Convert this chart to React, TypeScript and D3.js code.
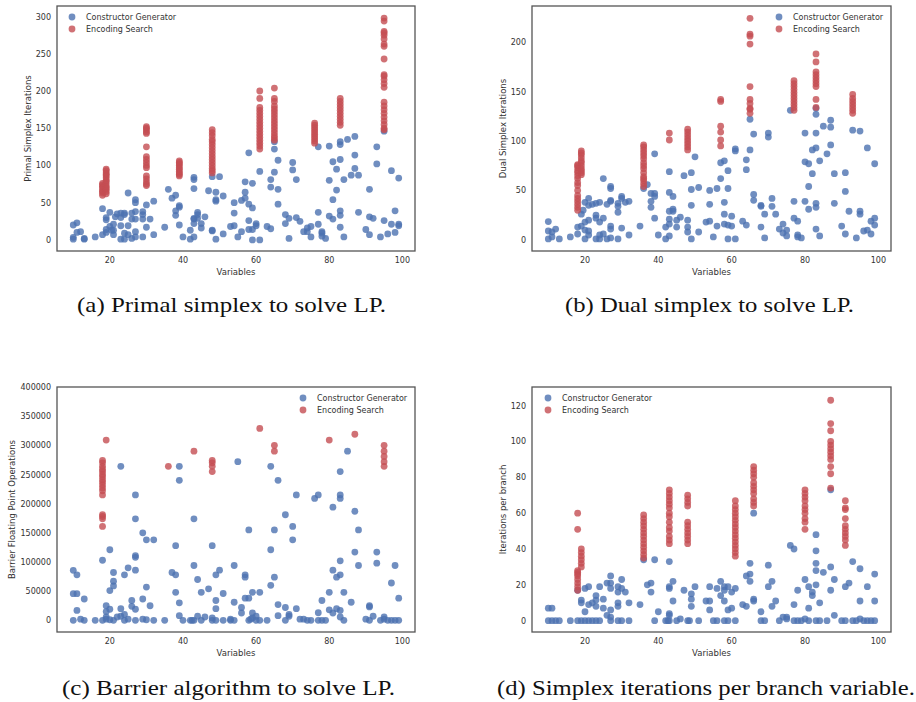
import React from "react";
import * as d3 from "d3";

// ---------- DATA ----------
const xTicks = [20, 40, 60, 80, 100];
const primalTicks = [0, 50, 100, 150, 200, 250, 300];
const dualTicks = [0, 50, 100, 150, 200];
const barrierTicks = [0, 50000, 100000, 150000, 200000, 250000, 300000, 350000, 400000];
const branchTicks = [0, 20, 40, 60, 80, 100, 120];
const seriesNames = ["Constructor Generator", "Encoding Search"];

// (a) primal simplex: Constructor Generator [variables, iterations]
const primalCG: [number, number][] = [
  [10, 20], [11, 23], [10, 3.5], [10, 1], [11, 10], [12, 11], [13, 1], [13, 2], [16, 4], [18, 42], [18, 7],
  [19, 14], [19, 27], [19, 30], [19, 10], [20, 37], [20, 18], [20.5, 13], [21, 7], [21, 13], [21, 21],
  [21.5, 31], [22, 35], [23, 36], [23, 30], [23, 19], [23, 1], [24, 34], [24, 36], [24, 9], [24, 1],
  [25, 63], [25, 19], [25, 7], [26, 36], [26, 28], [26, 2], [27, 54], [27, 50], [27, 38], [27, 28],
  [27, 11], [27, 4], [29, 38], [29, 34], [29, 28], [29, 4], [30, 47], [30, 17], [31, 28], [32, 52],
  [32, 7], [35, 17], [36, 68], [37, 56], [38, 60], [38, 39], [38, 33], [39, 46], [39, 44], [39, 20],
  [40, 4], [42, 13], [42, 1], [43, 84], [43, 81], [43, 69], [43, 29], [43, 28], [43, 22], [43, 4],
  [44, 37], [44, 34], [44, 29], [45, 22], [45, 16], [46, 31], [47, 66], [48, 85], [48, 13], [48, 12],
  [49, 64], [49, 54], [49, 52], [49, 1], [50, 85], [51, 59], [51, 8], [53, 18], [54, 50], [54, 36],
  [54, 19], [55, 4], [56, 11], [56, 53], [57, 78], [57, 64], [57, 56], [58, 117], [58, 48], [58, 26],
  [58, 14], [59, 76], [59, 43], [59, 0], [59, 14], [60, 22], [60, 19], [61, 92], [61, 0], [63, 18],
  [64, 81], [64, 71], [64, 15], [65, 132], [65, 122], [65, 91], [66, 107], [66, 68], [66, 48], [68, 34],
  [68, 22], [69, 29], [69, 2], [70, 104], [70, 94], [71, 81], [71, 30], [72, 25], [73, 11], [74, 16],
  [74, 11], [75, 18], [75, 4], [77, 125], [77, 37], [77, 21], [78, 11], [78, 9], [78, 5], [79, 2],
  [80, 126], [80, 80], [80, 32], [81, 105], [81, 54], [81, 28], [82, 95], [82, 67], [83, 132], [83, 128],
  [83, 108], [83, 39], [83, 33], [83, 17], [84, 81], [84, 4], [85, 135], [86, 87], [87, 139], [87, 114],
  [87, 96], [88, 87], [88, 37], [90, 14], [91, 68], [91, 31], [91, 7], [92, 29], [93, 125], [93, 102],
  [94, 4], [95, 146], [95, 26], [96, 8], [97, 93], [97, 21], [98, 39], [98, 10], [99, 83], [99, 21], [99, 19],
];
// (a) primal simplex: Encoding Search, grouped by variables
const primalES: [number, number[]][] = [
  [18, [60, 63, 65, 67, 70, 72, 74, 76]],
  [19, [62, 65, 68, 70, 72, 75, 78, 80, 83, 86, 88, 90, 93, 95]],
  [30, [143, 145, 148, 150, 152, 125, 112, 108, 104, 100, 97, 86, 82, 78, 75, 73]],
  [39, [86, 88, 90, 92, 95, 97, 100, 102, 104, 106]],
  [48, [90, 93, 96, 100, 104, 108, 112, 116, 120, 124, 128, 132, 135, 140, 144, 148]],
  [61, [200, 190, 178, 174, 170, 166, 162, 158, 154, 150, 146, 142, 138, 134, 130, 126, 122]],
  [65, [204, 190, 186, 180, 176, 172, 168, 164, 160, 156, 152, 148, 144, 140, 137, 134]],
  [76, [130, 133, 136, 139, 142, 145, 148, 151, 154, 157]],
  [83, [154, 158, 162, 166, 170, 174, 178, 182, 186, 190]],
  [95, [298, 294, 280, 278, 275, 270, 263, 260, 243, 222, 220, 215, 210, 205, 185, 180, 175, 170, 165, 160, 155, 150, 148]],
];

// (b) dual simplex
const dualCG: [number, number][] = [
  [10, 18.5], [10, 9], [10, 1], [11, 8], [11, 3], [12, 11], [13, 1], [16, 3], [18, 6], [18, 13], [19, 14],
  [19, 26], [19.5, 30], [20, 38], [20, 18], [20, 10], [20, 1], [21, 20], [21, 42], [21, 35], [21, 5],
  [21, 9], [22, 36], [23, 37], [23, 25], [23, 22], [23, 1], [24, 38], [24, 18], [24, 5], [24, 1],
  [25, 62], [25, 22], [25, 6], [26, 36], [26, 1], [27, 54], [27, 52], [27, 40], [27, 39], [27, 14],
  [27, 11], [27, 2], [29, 37], [29, 34], [29, 28], [29, 1], [30, 44], [30, 42], [30, 12], [31, 38],
  [32, 39], [32, 5], [35, 14], [36, 52], [37, 56], [38, 47], [38, 39], [38, 33], [39, 87], [39, 47],
  [39, 44], [39, 22], [40, 5], [42, 13], [42, 1], [43, 69], [43, 48], [43, 29], [43, 21], [43, 16],
  [43, 4], [44, 44], [44, 31], [44, 29], [45, 13], [45, 20], [46, 23], [47, 65], [48, 20], [48, 13],
  [48, 8], [49, 68], [49, 51], [49, 35], [49, 1], [50, 84], [51, 53], [51, 8], [53, 18], [54, 50],
  [54, 36], [54, 19], [55, 3], [56, 52], [56, 14], [57, 62], [57, 78], [58, 80], [58, 38], [58, 26],
  [58, 16], [59, 70], [59, 52], [59, 15], [59, 1], [60, 24], [60, 14], [61, 92], [61, 90], [61, 1],
  [63, 19], [64, 81], [64, 71], [64, 15], [65, 122], [65, 91], [66, 107], [66, 46], [66, 40], [68, 35],
  [68, 34], [68, 13], [69, 26], [69, 2], [70, 108], [70, 104], [71, 42], [71, 34], [72, 26], [73, 11],
  [74, 16], [74, 7], [75, 10], [75, 4], [76, 131], [77, 39], [77, 22], [78, 19], [78, 5], [78, 3],
  [79, 2], [80, 108], [80, 79], [80, 39], [81, 77], [81, 54], [81, 31], [82, 91], [82, 67], [83, 133],
  [83, 127], [83, 108], [83, 93], [83, 37], [83, 33], [83, 11], [84, 80], [84, 4], [85, 115], [86, 87],
  [87, 121], [87, 114], [87, 96], [88, 67], [88, 37], [90, 14], [91, 68], [91, 49], [91, 6], [92, 29],
  [93, 111], [94, 2], [95, 110], [95, 29], [95, 26], [96, 9], [97, 93], [97, 10], [98, 6], [98, 19],
  [99, 77], [99, 22], [99, 15],
];
const dualES: [number, number[]][] = [
  [18, [30, 33, 36, 39, 42, 45, 50, 55, 58, 62, 65, 68, 70, 73, 75, 76]],
  [19, [66, 68, 70, 72, 75, 78, 80, 83, 86, 88, 90]],
  [36, [54, 57, 60, 62, 64, 68, 72, 75, 78, 82, 85, 88, 91, 94, 96]],
  [43, [108, 101]],
  [48, [91, 94, 97, 100, 103, 106, 109, 112]],
  [57, [142, 140, 115, 109, 101, 95]],
  [65, [224, 208, 206, 198, 155, 142, 138, 133, 132, 128]],
  [77, [131, 134, 137, 140, 143, 146, 149, 152, 155, 158, 161]],
  [83, [188, 180, 170, 167, 164, 161, 158, 155, 142, 134]],
  [93, [128, 131, 134, 137, 140, 143, 147]],
];

// (c) barrier floating point operations
const barrierCG: [number, number][] = [
  [10, 85700], [10, 45700], [10, 0], [11, 45700], [11, 78000], [11, 17000], [12, 2000], [13, 36600],
  [13, 0], [16, 0], [18, 103000], [18, 0], [19, 25000], [19, 15000], [19, 5700], [19, 2000], [20, 121000],
  [20, 51000], [20, 19000], [20, 1000], [21, 82000], [21, 67000], [21, 59000], [21, 0], [22, 5700],
  [23, 264000], [23, 20000], [23, 7000], [24, 78000], [24, 10000], [24, 0], [25, 90000], [25, 2000],
  [26, 34000], [26, 24000], [27, 215000], [27, 174000], [27, 111000], [27, 108000], [27, 86000],
  [27, 19000], [27, 0], [29, 150000], [29, 36600], [29, 2000], [30, 138000], [30, 57000], [30, 1000],
  [31, 25000], [32, 138000], [32, 0], [35, 0], [37, 82000], [38, 128000], [38, 78000], [38, 48000],
  [39, 264000], [39, 240000], [39, 30000], [39, 8000], [40, 0], [42, 0], [42.5, 0], [43, 174000],
  [43, 94000], [43, 0], [44, 70000], [44, 7000], [45, 48000], [45, 0], [46, 5700], [47, 54000],
  [48, 128000], [48, 4000], [48, 0], [49, 78000], [49, 34000], [49, 20000], [49, 0], [50, 86000],
  [51, 46000], [51, 0], [53, 0], [53, 2000], [54, 0], [54, 94000], [54, 31000], [55, 272000], [56, 22000],
  [56, 12600], [57, 78000], [57, 74000], [57, 38000], [58, 38000], [58, 155000], [58, 0], [58.5, 2000],
  [59, 48000], [59, 12600], [59, 4000], [60, 7000], [60, 0], [61, 48000], [61, 0], [63, 0], [64, 264000],
  [64, 121000], [64, 60000], [65, 155000], [65, 74000], [66, 240000], [66, 27000], [66, 8000],
  [68, 181000], [68, 22000], [68, 0], [69, 10000], [69, 7000], [70, 161000], [70, 138000], [71, 215000],
  [71, 20000], [72, 2000], [73, 2000], [74, 0], [75, 0], [76, 209000], [77, 215000], [77, 13000],
  [77, 0], [78, 34000], [78, 0], [79, 0], [80, 48000], [80, 18000], [81, 194000], [81, 86000],
  [81, 12600], [82, 74000], [82, 20000], [83, 255000], [83, 215000], [83, 209000], [83, 78000],
  [83, 102000], [83, 17000], [83, 5700], [84, 48000], [84, 0], [85, 290000], [86, 31000], [87, 187000],
  [87, 117000], [88, 155000], [88, 94000], [90, 2000], [91, 25000], [91, 23000], [91, 0], [92, 7000],
  [93, 117000], [93, 98000], [94, 0], [95, 5700], [95, 2000], [96, 0], [97, 64000], [97, 0], [98, 94000],
  [98, 0], [99, 38000], [99, 0],
];
const barrierES: [number, number[]][] = [
  [18, [274000, 270000, 264000, 259000, 255000, 250000, 246000, 241000, 237000, 232000, 227000, 222000, 215000, 181000, 178000, 174000, 161000]],
  [19, [309000]],
  [36, [264000]],
  [43, [290000]],
  [48, [274000, 270000, 264000, 255000]],
  [61, [329000]],
  [65, [300000, 290000]],
  [80, [309000]],
  [87, [319000]],
  [95, [300000, 290000, 281000, 272000, 264000]],
];

// (d) iterations per branch
const branchCG: [number, number][] = [
  [10, 7], [11, 7], [10, 0], [11, 0], [12, 0], [13, 0], [16, 0], [18, 0], [19, 0], [20, 0], [21, 0],
  [22, 0], [18, 17], [19, 11.5], [19, 10], [20, 5], [20, 18], [21, 19], [21, 9], [22, 10], [23, 14],
  [23, 8], [23, 11.5], [23, 0], [24, 0], [24, 19], [25, 12], [25, 7], [26, 21], [26, 3], [27, 25],
  [27, 21], [27, 18], [27, 6], [27, 2], [27, 0], [29, 19], [29, 16], [29, 10], [29, 8], [29, 0], [30, 0],
  [30, 23], [30, 18], [31, 16], [32, 10], [32, 0], [35, 9], [36, 34], [37, 20], [38, 21], [38, 16],
  [39, 34], [39, 0], [40, 5], [42, 0], [42.6, 0], [43, 33], [43, 19], [43, 18], [43, 4], [43, 3], [43, 0],
  [44, 22], [44, 11], [45, 0], [46, 1], [47, 17], [48, 0], [48.5, 0], [49, 15], [49, 12], [49, 8],
  [50, 19], [51, 0], [53, 11], [54, 11], [54, 19], [54, 6], [55, 0], [56, 0], [56, 18], [57, 22],
  [57, 14], [58, 11], [58, 19], [58, 17], [58, 0], [59, 0], [59, 6], [59, 19], [60, 7], [60, 16],
  [61, 18], [61, 0], [63, 9], [64, 25], [64, 8], [65, 32], [65, 26], [65, 22], [66, 60], [66, 12],
  [66, 11], [68, 5], [68, 0], [69, 0], [70, 31], [70, 19], [71, 22], [71, 8], [72, 11], [73, 0], [74, 2],
  [75, 1], [75, 2], [76, 42], [77, 40], [77, 9], [77, 0], [78, 0], [79, 0], [78, 17], [80, 23], [80, 1],
  [81, 19], [81, 7], [81, 0], [82, 16], [82, 14], [83, 48], [83, 39], [83, 32], [83, 28], [83, 20],
  [83, 0], [84, 0], [84, 10], [85, 27], [86, 0], [87, 73], [87, 30], [87, 17], [88, 23], [88, 3], [90, 0],
  [91, 0], [91, 19], [92, 21], [93, 33], [93, 0], [94, 0], [95, 29], [95, 11], [95, 1], [96, 0], [97, 0],
  [98, 0], [99, 0], [97, 19], [99, 26], [99, 11],
];
const branchES: [number, number[]][] = [
  [18, [60, 51, 28, 27, 26, 25, 23, 21, 19, 17]],
  [19, [40, 38, 36, 34, 32, 30]],
  [36, [35, 37, 39, 41, 43, 45, 47, 49, 51, 53, 55, 57, 59]],
  [43, [73, 71, 69, 67, 65, 63, 60, 58, 55, 52, 50, 47, 45, 43]],
  [48, [70, 68, 66, 64, 55, 53, 51, 49, 47, 45, 43]],
  [61, [67, 64, 62, 60, 58, 56, 54, 52, 50, 48, 46, 44, 42, 40, 38, 36]],
  [66, [86, 84, 82, 80, 77, 75, 73, 71, 68, 66, 64]],
  [80, [73, 71, 69, 67, 64, 62, 60, 57, 55, 51]],
  [87, [123, 110, 106, 100, 98, 96, 94, 92, 90, 86, 82, 74]],
  [91, [67, 63, 62, 57, 53, 51, 49, 47, 45, 42]],
];

const captions = [
  "(a) Primal simplex to solve LP.",
  "(b) Dual simplex to solve LP.",
  "(c) Barrier algorithm to solve LP.",
  "(d) Simplex iterations per branch variable.",
];

// ---------- STYLE ----------
const BLUE = "#4C72B0";
const RED = "#C44E52";
const TXT = "#333";
const FONT = "DejaVu Sans";
const SERIF = "Liberation Serif";

type PanelProps = {
  left: number; top: number; right: number; bottom: number;
  yDomain: [number, number]; yTicks: number[]; yLabel: string; yLabelX: number;
  cg: [number, number][]; es: [number, number[]][];
  legend: { x: number; y: number };
};

function Panel(p: PanelProps) {
  const x = d3.scaleLinear().domain([5.55, 103.45]).range([p.left, p.right]);
  const y = d3.scaleLinear().domain(p.yDomain).range([p.bottom, p.top]);
  const esPts = p.es.flatMap(([vx, ys]) => ys.map((vy) => [vx, vy] as [number, number]));
  const r = 3.4;
  return (
    <g>
      {p.cg.map((d, i) => (
        <circle key={"b" + i} cx={x(d[0])} cy={y(d[1])} r={r} fill={BLUE} fillOpacity={0.8} />
      ))}
      {esPts.map((d, i) => (
        <circle key={"r" + i} cx={x(d[0])} cy={y(d[1])} r={r} fill={RED} fillOpacity={0.8} />
      ))}
      <rect x={p.left} y={p.top} width={p.right - p.left} height={p.bottom - p.top}
        fill="none" stroke="#555" strokeWidth={1.3} />
      {xTicks.map((t) => (
        <text key={"xt" + t} x={x(t)} y={p.bottom + 12} fontSize={8} fill={TXT}
          textAnchor="middle" fontFamily={FONT}>{t}</text>
      ))}
      {p.yTicks.map((t) => (
        <text key={"yt" + t} x={p.left - 6} y={y(t) + 3} fontSize={8} fill={TXT}
          textAnchor="end" fontFamily={FONT}>{t}</text>
      ))}
      <text x={(p.left + p.right) / 2} y={p.bottom + 24} fontSize={8.5} fill={TXT}
        textAnchor="middle" fontFamily={FONT}>Variables</text>
      <text transform={`translate(${p.yLabelX},${(p.top + p.bottom) / 2}) rotate(-90)`}
        fontSize={8.5} fill={TXT} textAnchor="middle" dominantBaseline="central"
        fontFamily={FONT}>{p.yLabel}</text>
      {seriesNames.map((n, i) => (
        <g key={n}>
          <circle cx={p.legend.x} cy={p.legend.y + i * 12} r={r} fill={i === 0 ? BLUE : RED} fillOpacity={0.8} />
          <text x={p.legend.x + 14} y={p.legend.y + i * 12 + 3} fontSize={8} fill={TXT}
            fontFamily={FONT}>{n}</text>
        </g>
      ))}
    </g>
  );
}

export default function App() {
  return (
    <svg width={916} height={702} style={{ position: "absolute", left: 0, top: 0, background: "#fff" }}>
      <rect width={916} height={702} fill="#fff" />
      <Panel left={57} top={6} right={415} bottom={251} yDomain={[-14.9, 314.2]} yTicks={primalTicks}
        yLabel="Primal Simplex Iterations" yLabelX={28} cg={primalCG} es={primalES} legend={{ x: 72, y: 17 }} />
      <Panel left={532} top={6} right={891} bottom={251} yDomain={[-11.2, 236.5]} yTicks={dualTicks}
        yLabel="Dual Simplex Iterations" yLabelX={503} cg={dualCG} es={dualES} legend={{ x: 779, y: 17 }} />
      <Panel left={57} top={387} right={415} bottom={632} yDomain={[-20000, 400000]} yTicks={barrierTicks}
        yLabel="Barrier Floating Point Operations" yLabelX={12} cg={barrierCG} es={barrierES} legend={{ x: 303, y: 398 }} />
      <Panel left={532} top={387} right={891} bottom={632} yDomain={[-6.3, 130.4]} yTicks={branchTicks}
        yLabel="Iterations per branch" yLabelX={503} cg={branchCG} es={branchES} legend={{ x: 548, y: 398 }} />
      {[
        { t: captions[0], x: 77, y: 312, w: 309 },
        { t: captions[1], x: 565, y: 312, w: 289 },
        { t: captions[2], x: 62, y: 695, w: 333 },
        { t: captions[3], x: 497, y: 695, w: 418 },
      ].map((c) => (
        <text key={c.t} x={c.x} y={c.y} textLength={c.w} lengthAdjust="spacingAndGlyphs"
          fontFamily={SERIF} fontSize={21} fill="#111">{c.t}</text>
      ))}
    </svg>
  );
}
